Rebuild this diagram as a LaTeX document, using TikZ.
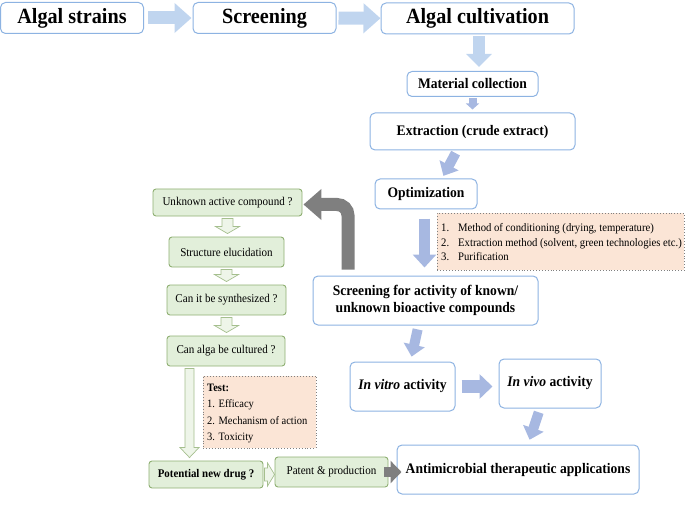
\documentclass[tikz,border=0pt]{standalone}
\usepackage{fontspec}
\setmainfont{Liberation Serif}[FakeStretch=0.93]
\usetikzlibrary{arrows.meta,calc}
\definecolor{boxblue}{HTML}{8DB3E2}
\definecolor{arrblue}{HTML}{C0D5EF}
\definecolor{arrlav}{HTML}{A7B8E1}
\definecolor{grnfill}{HTML}{E2EFDA}
\definecolor{grnline}{HTML}{8FAF72}
\definecolor{peach}{HTML}{FBE5D6}
\definecolor{notegray}{HTML}{808080}
\definecolor{arrgray}{HTML}{7F7F7F}
\newcommand{\fs}[2]{\fontsize{#1}{#2}\selectfont}
% hollow green arrows
\newcommand{\hdown}[5]{% from, to, shaft half, head half, head length
  \path[hollowarrow] let \p1=(#1), \p2=(#2) in
    (\x1-#3pt,\y1-2pt) -- (\x1+#3pt,\y1-2pt) -- (\x1+#3pt,\y2+3pt+#5pt)
    -- (\x1+#4pt,\y2+3pt+#5pt) -- (\x1,\y2+3pt) -- (\x1-#4pt,\y2+3pt+#5pt)
    -- (\x1-#3pt,\y2+3pt+#5pt) -- cycle;}
\begin{document}
\begin{tikzpicture}[x=1pt,y=-1pt,
  bluebox/.style={draw=boxblue, line width=1pt, fill=white, rounded corners=5pt,
    inner sep=0pt, align=center, font=\bfseries\fs{14.6}{17}},
  topbox/.style={bluebox, minimum height=31pt, font=\bfseries\fs{21.7}{24}},
  greenbox/.style={draw=grnline, line width=0.9pt, fill=grnfill, rounded corners=3pt,
    inner sep=0pt, font=\fs{11.9}{14}},
  notebox/.style={draw=notegray, dotted, line width=0.9pt, fill=peach, inner sep=0pt},
  hollowarrow/.style={draw=grnline!80, line width=0.7pt, fill=grnfill!60!white},
  bigarrow/.style={draw=arrblue, line width=13pt, -{Triangle[width=29pt,length=17pt]}},
  lavarrow/.style={draw=arrlav, line width=10pt, -{Triangle[width=21pt,length=12pt]}},
  grayarrow/.style={draw=arrgray, line width=13pt, -{Triangle[width=30pt,length=18pt]}}]
\useasboundingbox (0,0) rectangle (685,505);

% top row
\node[topbox, minimum width=143pt] (strains) at (72,18) {Algal strains};
\node[topbox, minimum width=143pt] (screen) at (264.5,18) {Screening};
\node[topbox, minimum width=193pt] (cult) at (477.5,18.5) {Algal cultivation};
\draw[bigarrow, shorten <=4pt, shorten >=1pt] (strains) -- (screen);
\draw[bigarrow, shorten <=2pt, shorten >=0pt] (screen) -- (cult);

% right chain
\node[bluebox, minimum width=131pt, minimum height=25pt] (mat) at (472.5,84) {Material collection};
\draw[draw=arrblue, line width=12pt, -{Triangle[width=25pt,length=13pt]},
  shorten <=2pt, shorten >=4pt] ([xshift=1.5pt]cult.south) -- ([xshift=1.5pt]cult.south |- mat.north);
\node[bluebox, minimum width=205pt, minimum height=37pt] (ext) at (472.5,131.5) {Extraction (crude extract)};
\draw[draw=arrlav, line width=8pt, -{Triangle[width=13pt,length=6pt]},
  shorten <=1.5pt, shorten >=3pt] (mat) -- (mat |- ext.north);
\node[bluebox, minimum width=102pt, minimum height=30pt] (opt) at (426,194) {Optimization};
\draw[lavarrow, shorten <=3pt, shorten >=3pt] ([xshift=-15.5pt]ext.south) -- ([xshift=16pt]opt.north);

\node[notebox, minimum width=247pt, minimum height=57pt, anchor=north west] (opts) at (437,213) {};
\node[anchor=west, align=left, inner sep=0pt, font=\fs{11.5}{14.5}] (optstext) at (441,242.5)
  {\makebox[17pt][l]{1.}Method of conditioning (drying, temperature)\\
   \makebox[17pt][l]{2.}Extraction method (solvent, green technologies etc.)\\
   \makebox[17pt][l]{3.}Purification};

\node[bluebox, minimum width=225pt, minimum height=49pt] (scr) at (425.5,300.5)
  {Screening for activity of known/\\unknown bioactive compounds};
\draw[draw=arrlav, line width=11pt, -{Triangle[width=23pt,length=13pt]},
  shorten <=9pt, shorten >=8pt] ([xshift=-1.5pt]opt.south) -- ([xshift=-1.5pt]opt.south |- scr.north);

\node[bluebox, minimum width=105pt, minimum height=49pt] (vit) at (402.5,386.5) {\textit{In vitro} activity};
\node[bluebox, minimum width=102pt, minimum height=49pt] (viv) at (550,383.5) {\textit{In vivo} activity};
\node[bluebox, minimum width=242pt, minimum height=49pt] (anti) at (518,469.5) {Antimicrobial therapeutic applications};
\draw[lavarrow, shorten <=4pt, shorten >=5pt] ([xshift=-7pt]scr.south) -- ([xshift=8pt]vit.north);
\draw[draw=arrlav, line width=13pt, -{Triangle[width=24pt,length=13pt]},
  shorten <=6pt, shorten >=6pt] (vit.east) -- (vit.east -| viv.west);
\draw[lavarrow, shorten <=4pt, shorten >=5pt] ([xshift=-10pt]viv.south) -- ([xshift=10pt]anti.north);

% left column
\node[greenbox, minimum width=149pt, minimum height=27pt] (unk) at (227.5,202.5) {Unknown active compound ?};
\node[greenbox, minimum width=115pt, minimum height=30pt] (struc) at (226.5,252) {Structure elucidation};
\node[greenbox, minimum width=119pt, minimum height=30pt] (canit) at (226.5,300) {Can it be synthesized ?};
\node[greenbox, minimum width=118pt, minimum height=30pt] (canalga) at (226,351) {Can alga be cultured ?};
\node[greenbox, minimum width=114pt, minimum height=27pt, font=\bfseries\fs{11.7}{14}] (pot) at (206,474.5) {Potential new drug ?};
\node[greenbox, minimum width=113pt, minimum height=30pt] (pat) at (331.5,472) {Patent \& production};

\draw[grayarrow, rounded corners=11pt, shorten <=6pt, shorten >=1pt]
  ([xshift=-77.5pt]scr.north) |- ([yshift=-2pt]unk.east);

\hdown{unk.south}{struc.north}{5.5}{12}{7}
\hdown{struc.south}{canit.north}{5.5}{12}{7}
\hdown{canit.south}{canalga.north}{5.5}{12}{7}
\hdown{[xshift=-36.5pt]canalga.south}{[xshift=-36.5pt]canalga.south |- pot.north}{4.5}{9.5}{10}

\path[hollowarrow] let \p1=(pot.east), \p2=(pat.west) in
  (\x1+1pt,\y1+6.5pt) -- (\x2-7pt,\y1+6.5pt) -- (\x2-7pt,\y1+11.5pt) -- (\x2,\y1)
  -- (\x2-7pt,\y1-11.5pt) -- (\x2-7pt,\y1-6.5pt) -- (\x1+1pt,\y1-6.5pt) -- cycle;

\node[notebox, minimum width=113pt, minimum height=72pt] (test) at (259.5,412) {};
\node[anchor=north west, align=left, inner sep=0pt, font=\fs{11.3}{16.3}] (testtext) at (207,384)
  {\textbf{Test:}\\1. Efficacy\\2. Mechanism of action\\3. Toxicity};

\draw[draw=arrgray, line width=10pt, -{Triangle[width=22pt,length=11pt]},
  shorten <=-4pt, shorten >=-5pt] (pat.east) -- (pat.east -| anti.west);
\end{tikzpicture}
\end{document}
